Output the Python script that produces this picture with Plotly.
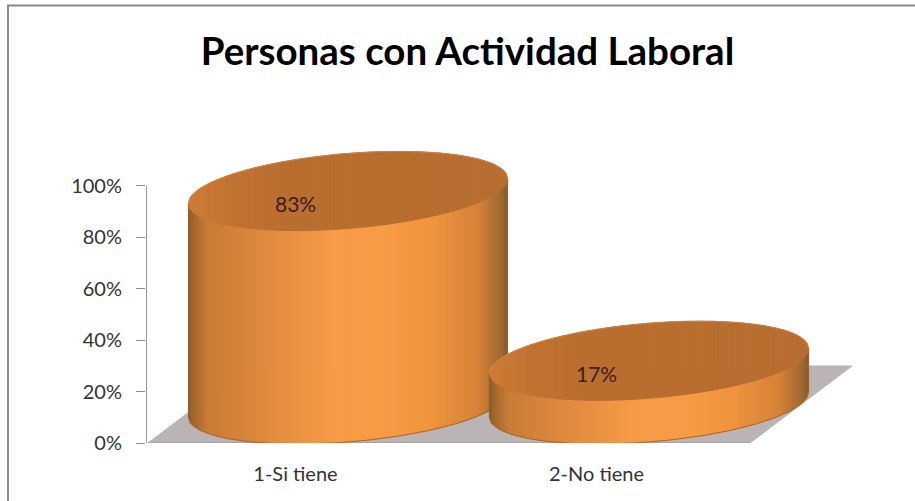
import numpy as np
import plotly.graph_objects as go

TITLE = "Personas con Actividad Laboral"
categories = ["1-Si tiene", "2-No tiene"]
values = [83, 17]
value_labels = ["83%", "17%"]
y_ticks = [0, 20, 40, 60, 80, 100]
y_tick_labels = ["0%", "20%", "40%", "60%", "80%", "100%"]

W, H = 915, 501
PX_X = 301.0
PX_Y = 2.57
LEFT, RIGHT, BOTTOM, TOP = 146, 870, 442.7, 130
FONT = "Lato, 'Open Sans', sans-serif"

xmin = -0.5 - (148 - LEFT) / PX_X
xmax = xmin + (RIGHT - LEFT) / PX_X
ymin = 0.0
ymax = (BOTTOM - TOP) / PX_Y

DEPTH_X = 102 / PX_X
DEPTH_Y = 77 / PX_Y
CYL_SHIFT = -1.5 / PX_X
LABEL_SHIFT = -3 / PX_X
RX = 159.6 / PX_X
RY = 37.5 / PX_Y
SHEAR = 12.5 / PX_Y

STOPS = [(0.0, (138, 90, 42)), (0.02, (165, 105, 47)), (0.06, (200, 124, 53)),
         (0.24, (224, 138, 63)), (0.45, (247, 155, 70)), (0.62, (248, 155, 70)),
         (0.76, (240, 149, 63)), (0.91, (214, 130, 57)), (0.98, (160, 106, 50)),
         (1.0, (138, 90, 42))]
TOP_STOPS = [(0.0, (206, 124, 54)), (0.12, (194, 116, 50)), (0.3, (186, 110, 48)),
             (1.0, (184, 110, 48))]


def colour(u, stops):
    xs = [s[0] for s in stops]
    return "rgb(%d,%d,%d)" % tuple(np.interp(u, xs, [s[1][i] for s in stops]) for i in range(3))


def edge(u, cy, sign):
    return cy + SHEAR * u + sign * RY * np.sqrt(np.clip(1 - u ** 2, 0, 1))


fig = go.Figure()


def poly(xs, ys, col):
    fig.add_trace(go.Scatter(x=xs, y=ys, mode="lines", fill="toself", fillcolor=col,
                             line=dict(color=col, width=1), hoverinfo="skip", showlegend=False))


def stroke(xs, ys, col, width):
    fig.add_trace(go.Scatter(x=xs, y=ys, mode="lines", line=dict(color=col, width=width),
                             hoverinfo="skip", showlegend=False, cliponaxis=False))


# Floor
poly([-0.5, 1.5, 1.5 + DEPTH_X, -0.5 + DEPTH_X, -0.5],
     [0, 0, DEPTH_Y, DEPTH_Y, 0], "#bab4b4")
stroke([-0.5, 1.5], [0, 0], "#9c9c9c", 1.5)
# Value axis line
stroke([xmin, xmin], [0, 100], "#9a9a9a", 2)

N = 100
for i, v in enumerate(values):
    cx = i + DEPTH_X / 2 + CYL_SHIFT
    base = DEPTH_Y / 2
    top = base + v
    us = np.linspace(-1, 1, N + 1)
    for a, b in zip(us[:-1], us[1:]):
        uu = np.linspace(a, b, 3)
        xs = cx + RX * uu
        lo = edge(uu, base, -1)
        hi = edge(uu, top, -1)
        poly(np.r_[xs, xs[::-1], xs[0]], np.r_[lo, hi[::-1], lo[0]],
             colour((a + b + 2) / 4, STOPS))
    for a, b in zip(us[:-1], us[1:]):
        uu = np.linspace(a, b, 3)
        xs = cx + RX * uu
        lo = edge(uu, top, -1)
        hi = edge(uu, top, 1)
        poly(np.r_[xs, xs[::-1], xs[0]], np.r_[lo, hi[::-1], lo[0]],
             colour((a + b + 2) / 4, TOP_STOPS))
    fine = np.linspace(-1, 1, 161)
    stroke(cx + RX * fine, edge(fine, top, 1), "#cf894a", 0.8)
    stroke(cx + RX * fine, edge(fine, base, -1), "#a6682f", 1)

annotations = [dict(x=i + LABEL_SHIFT, y=v + 10.2, text=t, showarrow=False, xref="x", yref="y",
                    font=dict(family=FONT, size=21, color="#3a2010"))
               for i, (v, t) in enumerate(zip(values, value_labels))]

paper_x = lambda px: (px - LEFT) / (RIGHT - LEFT)
paper_y = lambda py: (BOTTOM - py) / (BOTTOM - TOP)

fig.update_layout(
    width=W, height=H, autosize=False,
    paper_bgcolor="white", plot_bgcolor="rgba(0,0,0,0)", showlegend=False,
    margin=dict(l=LEFT, r=W - RIGHT, t=TOP, b=H - BOTTOM, pad=0),
    title=dict(text="<b>%s</b>" % TITLE, x=467.5 / W, xanchor="center", y=1 - 52 / H, yanchor="middle",
               font=dict(family=FONT, size=38.5, color="#000000")),
    annotations=annotations,
    xaxis=dict(range=[xmin, xmax], tickmode="array",
               tickvals=[i + LABEL_SHIFT for i in range(len(categories))], ticktext=categories,
               showgrid=False, zeroline=False, showline=False, ticks="", ticklabelstandoff=17,
               tickfont=dict(family=FONT, size=20, color="#333333")),
    yaxis=dict(range=[ymin, ymax], tickmode="array", tickvals=y_ticks, ticktext=y_tick_labels,
               showgrid=False, zeroline=False, showline=False, ticks="outside", ticklen=9,
               tickcolor="#8c8c8c", tickwidth=1.2, ticklabelstandoff=10,
               tickfont=dict(family=FONT, size=20, color="#333333")),
    shapes=[dict(type="path", xref="paper", yref="paper", layer="above",
                 path="M %f %f L %f %f L %f %f" % (
                     paper_x(8), paper_y(H + 2), paper_x(8), paper_y(5.5),
                     paper_x(W + 2), paper_y(5.5)),
                 line=dict(color="#8a8a8a", width=2))],
)

fig.write_html("out.html", config={"displayModeBar": False},
               post_script="document.body.style.margin='0';")
